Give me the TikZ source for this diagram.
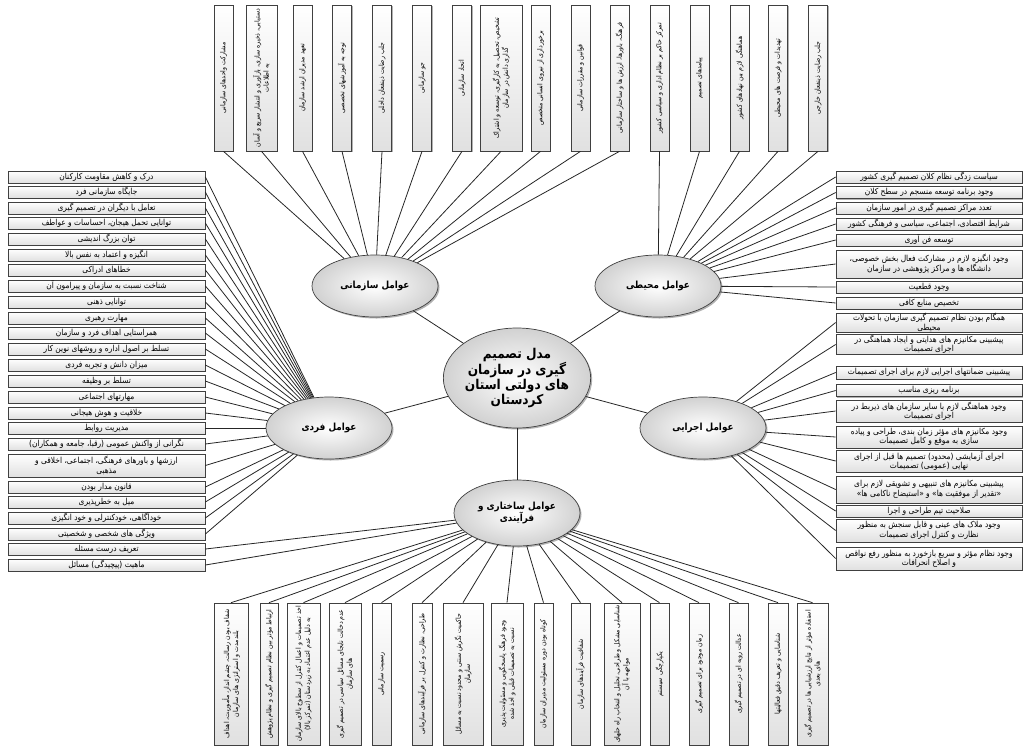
\documentclass[tikz,border=0pt]{standalone}
\usepackage{fontspec}
\usetikzlibrary{shapes.geometric,shadows}
\TeXXeTstate=1
\newfontfamily\arfont[Script=Arabic,FakeStretch=0.9]{DejaVu Sans}
\newcommand{\rl}[1]{\beginR #1\endR}
\begin{document}
\begin{tikzpicture}[x=1pt,y=-1pt,
  base/.style={draw=black!75, line width=0.7pt, top color=white, bottom color=black!12,
    general shadow={fill=black!30, shadow xshift=1pt, shadow yshift=-1pt},
    inner sep=0.5pt, align=center},
  hbox/.style={base, minimum height=12pt, font=\arfont\fontsize{8.3}{9.3}\selectfont},
  lbox/.style={hbox, minimum width=197pt},
  rbox/.style={hbox, minimum width=186pt},
  vbox/.style={base, rotate=90, minimum height=19pt, font=\arfont\fontsize{6.9}{9}\selectfont},
  tbox/.style={vbox, minimum width=146pt},
  bbox/.style={vbox, minimum width=142pt},
  fac/.style={ellipse, draw=black!75, line width=0.7pt, inner color=white, outer color=black!18,
    general shadow={fill=black!30, shadow xshift=1.5pt, shadow yshift=-1.5pt},
    inner sep=0pt, align=center, minimum width=126pt, minimum height=62pt,
    font=\arfont\bfseries\fontsize{9.8}{12.5}\selectfont},
  con/.style={draw=black!85, line width=0.8pt}]
\useasboundingbox (0,0) rectangle (1024,747);

% ---------- factor ellipses ----------
\node[fac, minimum width=136pt, minimum height=100pt, font=\arfont\bfseries\fontsize{13.5}{15}\selectfont]
  (center) at (517,378) {\rl{مدل تصمیم}\\\rl{گیری در سازمان}\\\rl{های دولتی استان}\\\rl{کردستان}};
\node[fac] (sazmani) at (375,286) {\rl{عوامل سازمانی}};
\node[fac] (mohiti) at (658,286) {\rl{عوامل محیطی}};
\node[fac] (fardi) at (329,428) {\rl{عوامل فردی}};
\node[fac] (ejrai) at (703,428) {\rl{عوامل اجرایی}};
\node[fac, minimum height=66pt] (sakht) at (517,513) {\rl{عوامل ساختاری و}\\\rl{فرآیندی}};

% ---------- top boxes ----------
\node[tbox] (t1) at (223.5,78) {\rl{مشارکت واحدهای سازمانی}};
\node[tbox, minimum height=31pt] (t2) at (261.5,78) {\rl{دستیابی، ذخیره سازی، بازآوری و انتشار سریع و آسان}\\\rl{به اطلاعات}};
\node[tbox] (t3) at (302.5,78) {\rl{تعهد مدیران ارشد سازمان}};
\node[tbox] (t4) at (342,78) {\rl{توجه به آموزشهای تخصصی}};
\node[tbox] (t5) at (382,78) {\rl{جلب رضایت ذینفعان داخلی}};
\node[tbox] (t6) at (422,78) {\rl{جو سازمانی}};
\node[tbox] (t7) at (462,78) {\rl{اتحاد سازمانی}};
\node[tbox, minimum height=42pt] (t8) at (501,78) {\rl{تشخیص، تحصیل، به کارگیری، توسعه و اشتراک}\\\rl{گذاری دانش در سازمان}};
\node[tbox] (t9) at (540.5,78) {\rl{برخورداری از نیروی انسانی متخصص}};
\node[tbox] (t10) at (580.5,78) {\rl{قوانین و مقررات سازمانی}};
\node[tbox] (t11) at (619.5,78) {\rl{فرهنگ، باورها، ارزش ها و ساختار سازمانی}};
\node[tbox] (t12) at (659.5,78) {\rl{تمرکز حاکم بر نظام اداری و سیاسی کشور}};
\node[tbox] (t13) at (699.5,78) {\rl{پیامدهای تصمیم}};
\node[tbox] (t14) at (739.5,78) {\rl{هماهنگی لازم بین نهادهای کشور}};
\node[tbox] (t15) at (778,78) {\rl{تهدیدات و فرصت های محیطی}};
\node[tbox] (t16) at (818,78) {\rl{جلب رضایت ذینفعان خارجی}};

% ---------- left boxes ----------
\node[lbox] (l1) at (106.5,177) {\rl{درک و کاهش مقاومت کارکنان}};
\node[lbox] (l2) at (106.5,192) {\rl{جایگاه سازمانی فرد}};
\node[lbox] (l3) at (106.5,208) {\rl{تعامل با دیگران در تصمیم گیری}};
\node[lbox] (l4) at (106.5,223) {\rl{توانایی تحمل هیجان، احساسات و عواطف}};
\node[lbox] (l5) at (106.5,239) {\rl{توان بزرگ اندیشی}};
\node[lbox] (l6) at (106.5,255) {\rl{انگیزه و اعتماد به نفس بالا}};
\node[lbox] (l7) at (106.5,270) {\rl{خطاهای ادراکی}};
\node[lbox] (l8) at (106.5,286) {\rl{شناخت نسبت به سازمان و پیرامون آن}};
\node[lbox] (l9) at (106.5,302) {\rl{توانایی ذهنی}};
\node[lbox] (l10) at (106.5,318) {\rl{مهارت رهبری}};
\node[lbox] (l11) at (106.5,333) {\rl{همراستایی اهداف فرد و سازمان}};
\node[lbox] (l12) at (106.5,349) {\rl{تسلط بر اصول اداره و روشهای نوین کار}};
\node[lbox] (l13) at (106.5,365) {\rl{میزان دانش و تجربه فردی}};
\node[lbox] (l14) at (106.5,381) {\rl{تسلط بر وظیفه}};
\node[lbox] (l15) at (106.5,397) {\rl{مهارتهای اجتماعی}};
\node[lbox] (l16) at (106.5,413) {\rl{خلاقیت و هوش هیجانی}};
\node[lbox] (l17) at (106.5,428) {\rl{مدیریت روابط}};
\node[lbox] (l18) at (106.5,444) {\rl{نگرانی از واکنش عمومی (رقبا، جامعه و همکاران)}};
\node[lbox, minimum height=23pt] (l19) at (106.5,465.5) {\rl{ارزشها و باورهای فرهنگی، اجتماعی، اخلاقی و}\\\rl{مذهبی}};
\node[lbox] (l20) at (106.5,487) {\rl{قانون مدار بودن}};
\node[lbox] (l21) at (106.5,502) {\rl{میل به خطرپذیری}};
\node[lbox] (l22) at (106.5,518) {\rl{خودآگاهی، خودکنترلی و خود انگیزی}};
\node[lbox] (l23) at (106.5,534) {\rl{ویژگی های شخصی و شخصیتی}};
\node[lbox] (l24) at (106.5,549) {\rl{تعریف درست مسئله}};
\node[lbox] (l25) at (106.5,565) {\rl{ماهیت (پیچیدگی) مسائل}};

% ---------- right boxes ----------
\node[rbox] (r1) at (929,177) {\rl{سیاست زدگی نظام کلان تصمیم گیری کشور}};
\node[rbox] (r2) at (929,192.5) {\rl{وجود برنامه توسعه منسجم در سطح کلان}};
\node[rbox] (r3) at (929,208) {\rl{تعدد مراکز تصمیم گیری در امور سازمان}};
\node[rbox] (r4) at (929,224) {\rl{شرایط اقتصادی، اجتماعی، سیاسی و فرهنگی کشور}};
\node[rbox] (r5) at (929,240) {\rl{توسعه فن آوری}};
\node[rbox, minimum height=28pt] (r6) at (929,264) {\rl{وجود انگیزه لازم در مشارکت فعال بخش خصوصی،}\\\rl{دانشگاه ها و مراکز پژوهشی در سازمان}};
\node[rbox] (r7) at (929,287) {\rl{وجود قطعیت}};
\node[rbox] (r8) at (929,303) {\rl{تخصیص منابع کافی}};
\node[rbox, minimum height=19pt] (r9) at (929,322.5) {\rl{همگام بودن نظام تصمیم گیری سازمان با تحولات}\\\rl{محیطی}};
\node[rbox, minimum height=19pt] (r10) at (929,344.5) {\rl{پیشبینی مکانیزم های هدایتی و ایجاد هماهنگی در}\\\rl{اجرای تصمیمات}};
\node[rbox, minimum height=13pt] (r11) at (929,372.5) {\rl{پیشبینی ضمانتهای اجرایی لازم برای اجرای تصمیمات}};
\node[rbox] (r12) at (929,390.5) {\rl{برنامه ریزی مناسب}};
\node[rbox, minimum height=22pt] (r13) at (929,411) {\rl{وجود هماهنگی لازم با سایر سازمان های ذیربط در}\\\rl{اجرای تصمیمات}};
\node[rbox, minimum height=22pt] (r14) at (929,437) {\rl{وجود مکانیزم های مؤثر زمان بندی، طراحی و پیاده}\\\rl{سازی به موقع و کامل تصمیمات}};
\node[rbox, minimum height=22pt] (r15) at (929,461) {\rl{اجرای آزمایشی (محدود) تصمیم ها قبل از اجرای}\\\rl{نهایی (عمومی) تصمیمات}};
\node[rbox, minimum height=27pt] (r16) at (929,489.5) {\rl{پیشبینی مکانیزم های تنبیهی و تشویقی لازم برای}\\\rl{«تقدیر از موفقیت ها» و «استیضاح ناکامی ها»}};
\node[rbox] (r17) at (929,511) {\rl{صلاحیت تیم طراحی و اجرا}};
\node[rbox, minimum height=23pt] (r18) at (929,530.5) {\rl{وجود ملاک های عینی و قابل سنجش به منظور}\\\rl{نظارت و کنترل اجرای تصمیمات}};
\node[rbox, minimum height=23pt] (r19) at (929,558.5) {\rl{وجود نظام مؤثر و سریع بازخورد به منظور رفع نواقص}\\\rl{و اصلاح انحرافات}};

% ---------- bottom boxes ----------
\node[bbox, minimum height=34pt] (b1) at (231,674) {\rl{شفاف بودن رسالت، چشم انداز، مأموریت، اهداف}\\\rl{بلندمدت و استراتژی های سازمان}};
\node[bbox, minimum height=18pt] (b2) at (269,674) {\rl{ارتباط مؤثر بین نظام تصمیم گیری و نظام پژوهش}};
\node[bbox, minimum height=33pt] (b3) at (303.5,674) {\rl{اخذ تصمیمات و اعمال کنترل از سطوح بالای سازمان}\\\rl{به دلیل عدم اعتماد به زیردستان (تمرکز بالا)}};
\node[bbox, minimum height=32pt] (b4) at (345,674) {\rl{عدم دخالت نابجای مسائل سیاسی در تصمیم گیری}\\\rl{های سازمان}};
\node[bbox] (b5) at (381.5,674) {\rl{رسمیت سازمانی}};
\node[bbox, minimum height=20pt] (b6) at (422,674) {\rl{طراحی، نظارت و کنترل بر فرآیندهای سازمانی}};
\node[bbox, minimum height=40pt] (b7) at (463,674) {\rl{حاکمیت نگرش سنتی و محدود نسبت به مسائل}\\\rl{سازمان}};
\node[bbox, minimum height=32pt] (b8) at (507,674) {\rl{وجود فرهنگ پاسخگویی و مسئولیت پذیری}\\\rl{نسبت به تصمیمات قبلی و اخذ شده}};
\node[bbox] (b9) at (543.5,674) {\rl{کوتاه بودن دوره مسئولیت مدیران سازمان}};
\node[bbox] (b10) at (580.5,674) {\rl{شفافیت فرآیندهای سازمان}};
\node[bbox, minimum height=36pt] (b11) at (622,674) {\rl{شناسایی مشکل و طراحی، تحلیل و انتخاب راه حلهای}\\\rl{مواجهه با آن}};
\node[bbox] (b12) at (659.5,674) {\rl{یکپارچگی سیستم}};
\node[bbox, minimum height=20pt] (b13) at (699,674) {\rl{زمان موجود برای تصمیم گیری}};
\node[bbox] (b14) at (738.5,674) {\rl{عدالت رویه ای در تصمیم گیری}};
\node[bbox, minimum height=20pt] (b15) at (778,674) {\rl{شناسایی و تعریف دقیق فعالیتها}};
\node[bbox, minimum height=31pt] (b16) at (812.5,674) {\rl{استفاده مؤثر از نتایج ارزشیابی ها در تصمیم گیری}\\\rl{های بعدی}};

% ---------- connectors ----------
\foreach \n in {sazmani,mohiti,fardi,ejrai,sakht} \draw[con] (center) -- (\n);
\foreach \i in {1,...,11} \draw[con] (t\i.west) -- (sazmani);
\foreach \i in {12,...,16} \draw[con] (t\i.west) -- (mohiti);
\foreach \i in {1,...,8} \draw[con] (r\i.west) -- (mohiti);
\foreach \i in {9,...,19} \draw[con] (r\i.west) -- (ejrai);
\foreach \i in {1,...,23} \draw[con] (l\i.east) -- (fardi);
\foreach \i in {24,25} \draw[con] (l\i.east) -- (sakht);
\foreach \i in {1,...,16} \draw[con] (b\i.east) -- (sakht);
\end{tikzpicture}
\end{document}
